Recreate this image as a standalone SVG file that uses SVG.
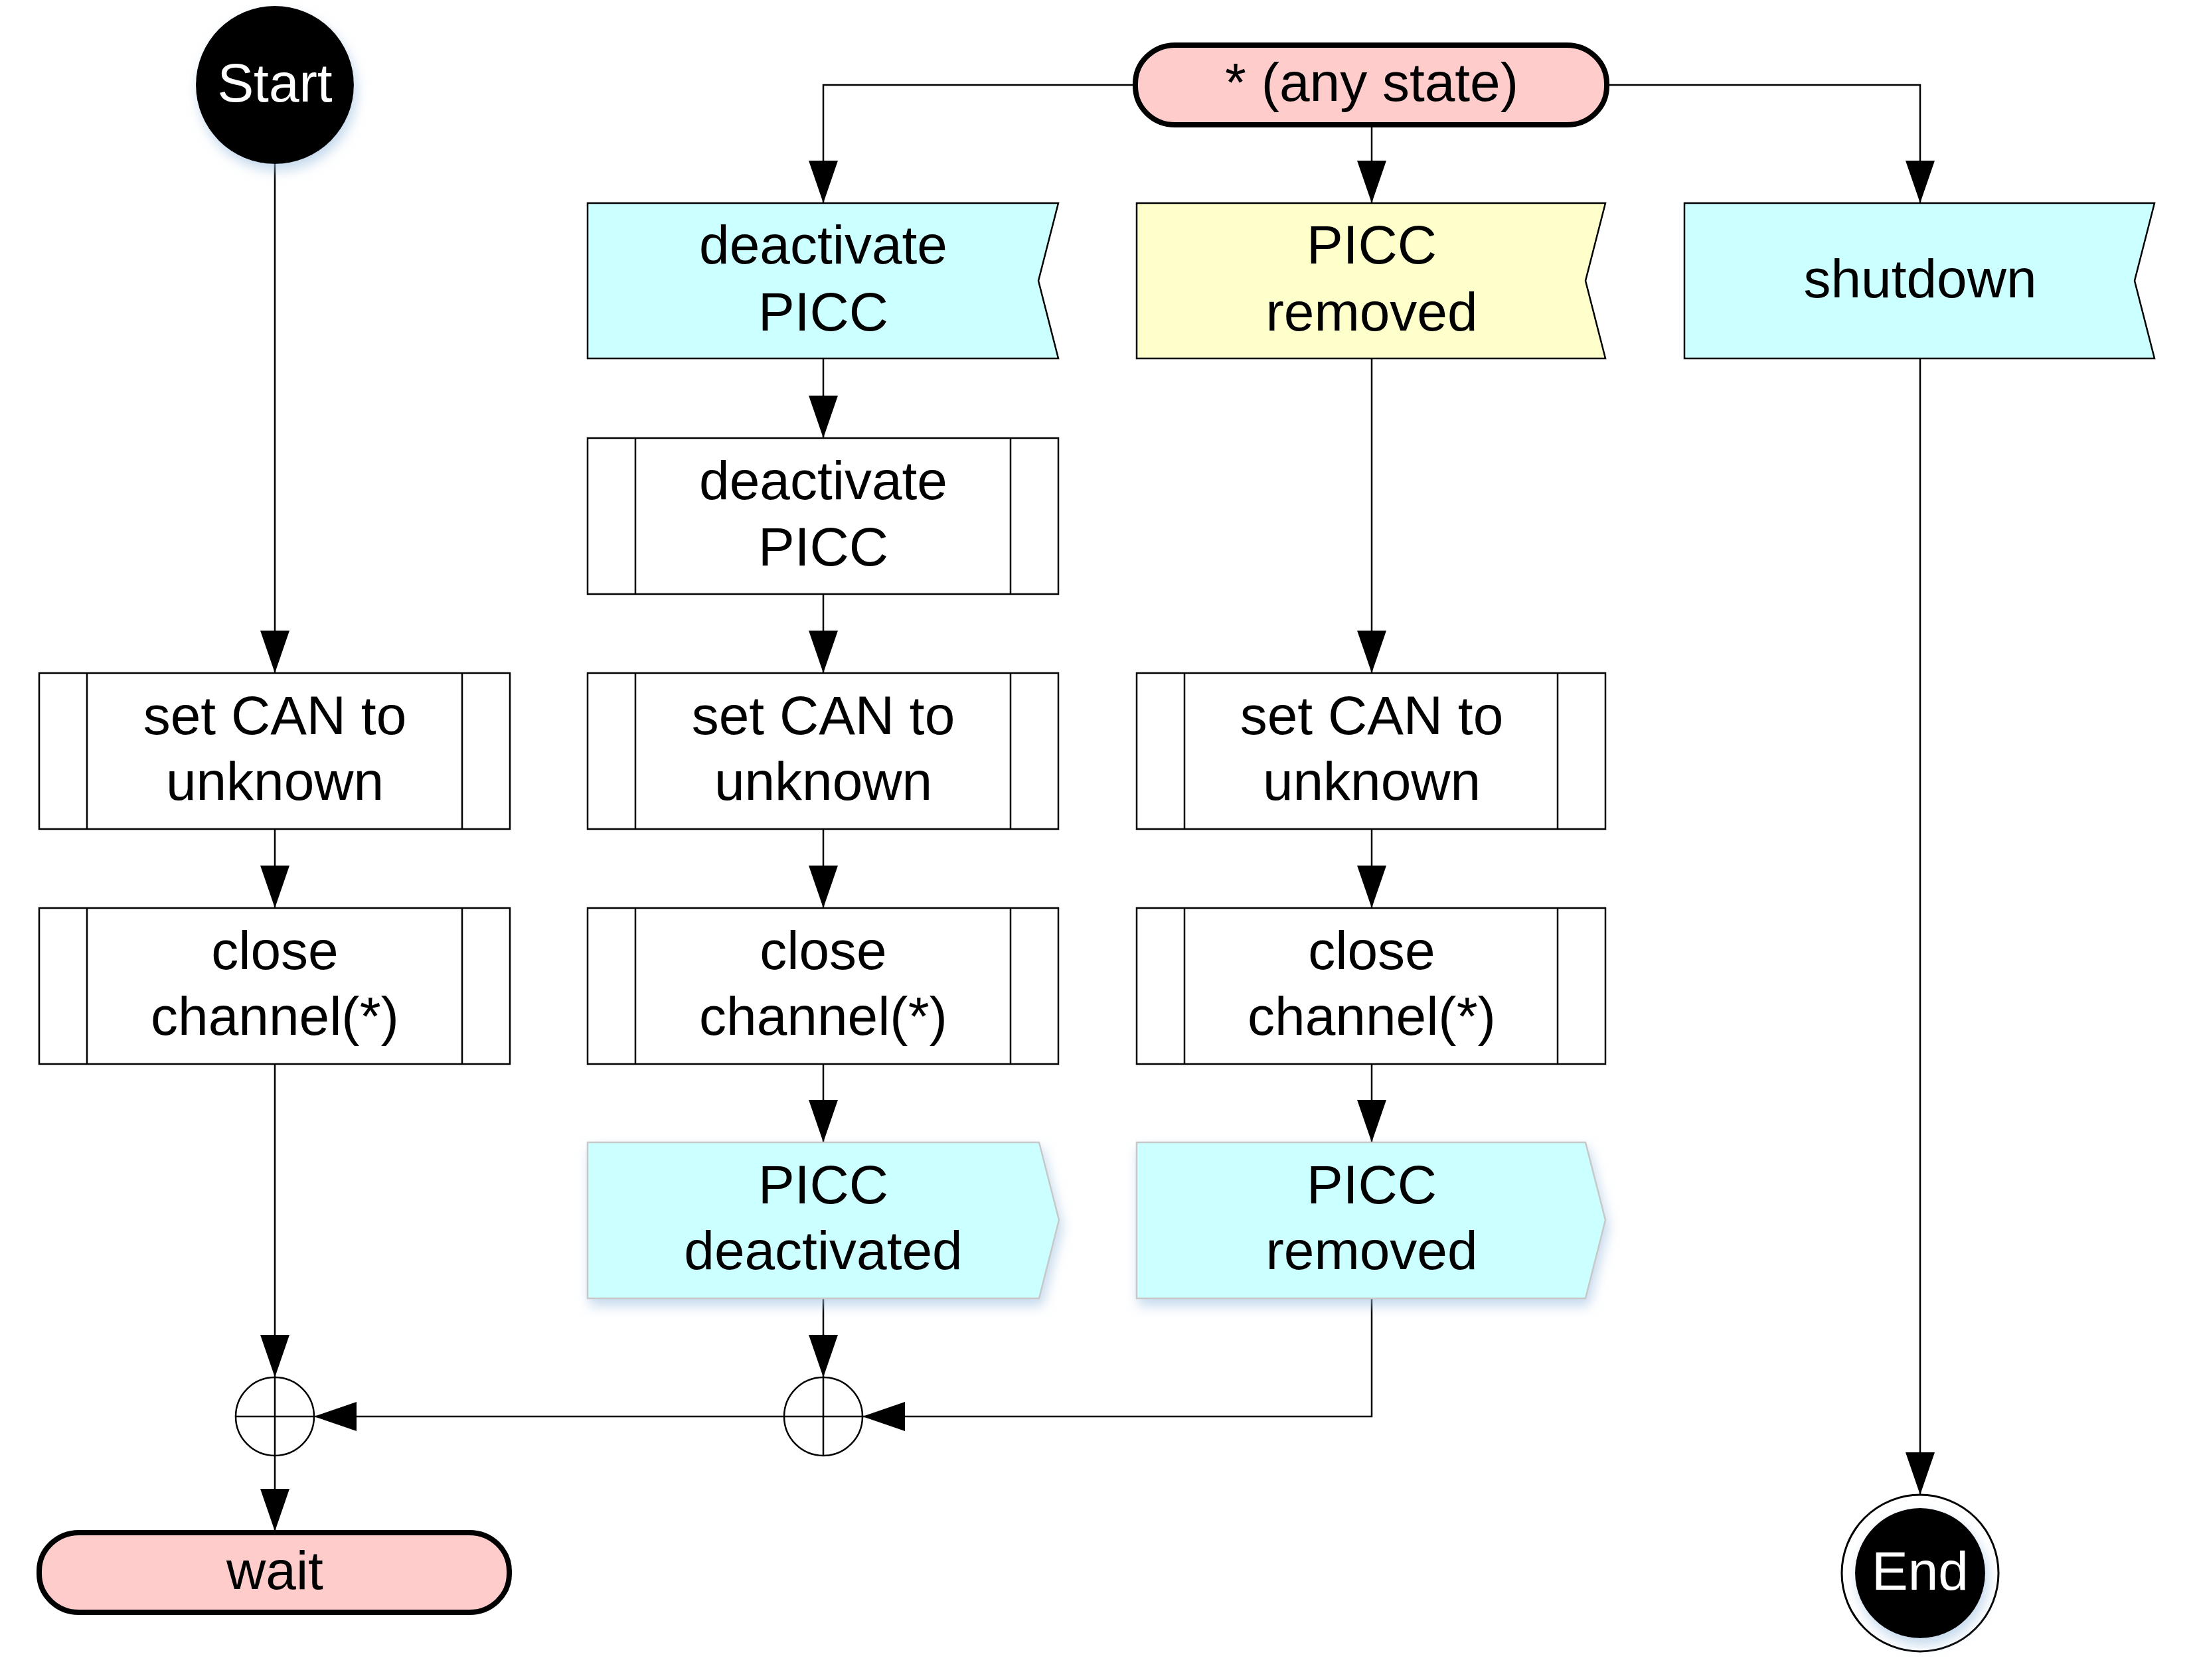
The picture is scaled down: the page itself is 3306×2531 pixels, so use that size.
<svg xmlns="http://www.w3.org/2000/svg" width="3306" height="2531" viewBox="0 0 3306 2531">
<style>
text{font-family:"Liberation Sans",Arial,sans-serif;font-size:82px;text-anchor:middle;fill:#000}
.w{fill:#fff}
.term{fill:#ffcccc;stroke:#000;stroke-width:8}
.proc{fill:#fff;stroke:#000;stroke-width:2.5}
.recv{stroke:#000;stroke-width:2.5}
.send{fill:#ccffff;stroke:#c8c8c8;stroke-width:2.5}
.cyan{fill:#ccffff}
.yel{fill:#ffffcc}
.merge{fill:#fff;stroke:#000;stroke-width:2.5}
.conn path{fill:none;stroke:#000;stroke-width:2.5}
.arr{marker-end:url(#ah)}
</style>
<defs>
<marker id="ah" markerUnits="userSpaceOnUse" markerWidth="64" markerHeight="44" refX="64" refY="22" orient="auto" viewBox="0 0 64 44">
<path d="M0,0 L64,22 L0,44 Z" fill="#000"/>
</marker>
<filter id="sh" x="-20%" y="-20%" width="140%" height="150%">
<feDropShadow dx="4" dy="10" stdDeviation="9" flood-color="#9ebfe0" flood-opacity="0.6"/>
</filter>
</defs>
<rect width="3306" height="2531" fill="#fff"/>

<g class="conn">
<path class="arr" d="M414,247 V1014"/>
<path class="arr" d="M414,1249 V1368"/>
<path class="arr" d="M414,1603 V2075"/>
<path class="arr" d="M414,2193 V2307"/>
<path class="arr" d="M1181,2134 H473"/>
<path class="arr" d="M2066,1956 V2134 H1299"/>
<path class="arr" d="M1710,128 H1240 V306"/>
<path class="arr" d="M2066,190 V306"/>
<path class="arr" d="M2420,128 H2892 V306"/>
<path class="arr" d="M1240,541 V660"/>
<path class="arr" d="M1240,895 V1014"/>
<path class="arr" d="M1240,1249 V1368"/>
<path class="arr" d="M1240,1603 V1721"/>
<path class="arr" d="M1240,1956 V2075"/>
<path class="arr" d="M2066,541 V1014"/>
<path class="arr" d="M2066,1249 V1368"/>
<path class="arr" d="M2066,1603 V1721"/>
<path class="arr" d="M2892,541 V2252"/>
</g>

<g id="start">
<circle cx="414" cy="128" r="119" fill="#000" filter="url(#sh)"/>
<text class="w" x="414" y="153">Start</text>
</g>

<g id="any-state">
<rect class="term" x="1710" y="68" width="710" height="120" rx="60" ry="58"/>
<text x="2066" y="152">* (any state)</text>
</g>

<g id="deactivate-signal">
<path class="recv cyan" d="M885,306 H1594 L1564,423 L1594,540 H885 Z"/>
<text x="1240" y="397">deactivate</text>
<text x="1240" y="498">PICC</text>
</g>

<g id="removed-signal">
<path class="recv yel" d="M1712,306 H2418 L2388,423 L2418,540 H1712 Z"/>
<text x="2066" y="397">PICC</text>
<text x="2066" y="498">removed</text>
</g>

<g id="shutdown-signal">
<path class="recv cyan" d="M2537,306 H3245 L3215,423 L3245,540 H2537 Z"/>
<text x="2892" y="448">shutdown</text>
</g>

<g id="deactivate-proc">
<rect class="proc" x="885" y="660" width="709" height="235"/>
<path class="proc" d="M957,660 V895 M1522,660 V895"/>
<text x="1240" y="752">deactivate</text>
<text x="1240" y="852">PICC</text>
</g>

<g id="setcan1">
<rect class="proc" x="59" y="1014" width="709" height="235"/>
<path class="proc" d="M131,1014 V1249 M696,1014 V1249"/>
<text x="414" y="1106">set CAN to</text>
<text x="414" y="1205">unknown</text>
</g>
<g id="setcan2">
<rect class="proc" x="885" y="1014" width="709" height="235"/>
<path class="proc" d="M957,1014 V1249 M1522,1014 V1249"/>
<text x="1240" y="1106">set CAN to</text>
<text x="1240" y="1205">unknown</text>
</g>
<g id="setcan3">
<rect class="proc" x="1712" y="1014" width="706" height="235"/>
<path class="proc" d="M1784,1014 V1249 M2346,1014 V1249"/>
<text x="2066" y="1106">set CAN to</text>
<text x="2066" y="1205">unknown</text>
</g>

<g id="close1">
<rect class="proc" x="59" y="1368" width="709" height="235"/>
<path class="proc" d="M131,1368 V1603 M696,1368 V1603"/>
<text x="414" y="1460">close</text>
<text x="414" y="1559">channel(*)</text>
</g>
<g id="close2">
<rect class="proc" x="885" y="1368" width="709" height="235"/>
<path class="proc" d="M957,1368 V1603 M1522,1368 V1603"/>
<text x="1240" y="1460">close</text>
<text x="1240" y="1559">channel(*)</text>
</g>
<g id="close3">
<rect class="proc" x="1712" y="1368" width="706" height="235"/>
<path class="proc" d="M1784,1368 V1603 M2346,1368 V1603"/>
<text x="2066" y="1460">close</text>
<text x="2066" y="1559">channel(*)</text>
</g>

<g id="deactivated-send">
<path class="send" filter="url(#sh)" d="M885,1721 H1565 L1595,1838 L1565,1956 H885 Z"/>
<text x="1240" y="1813">PICC</text>
<text x="1240" y="1912">deactivated</text>
</g>
<g id="removed-send">
<path class="send" filter="url(#sh)" d="M1712,1721 H2388 L2418,1838 L2388,1956 H1712 Z"/>
<text x="2066" y="1813">PICC</text>
<text x="2066" y="1912">removed</text>
</g>

<g id="merge1">
<circle class="merge" cx="414" cy="2134" r="59"/>
<path class="merge" d="M414,2075 V2193 M355,2134 H473"/>
</g>
<g id="merge2">
<circle class="merge" cx="1240" cy="2134" r="59"/>
<path class="merge" d="M1240,2075 V2193 M1181,2134 H1299"/>
</g>

<g id="wait">
<rect class="term" x="59" y="2309" width="708" height="120" rx="60" ry="58"/>
<text x="414" y="2394">wait</text>
</g>

<g id="end">
<circle cx="2892" cy="2370" r="118" fill="#fff" stroke="#000" stroke-width="3"/>
<circle cx="2892" cy="2370" r="98" fill="#000" filter="url(#sh)"/>
<text class="w" x="2892" y="2395">End</text>
</g>
</svg>
